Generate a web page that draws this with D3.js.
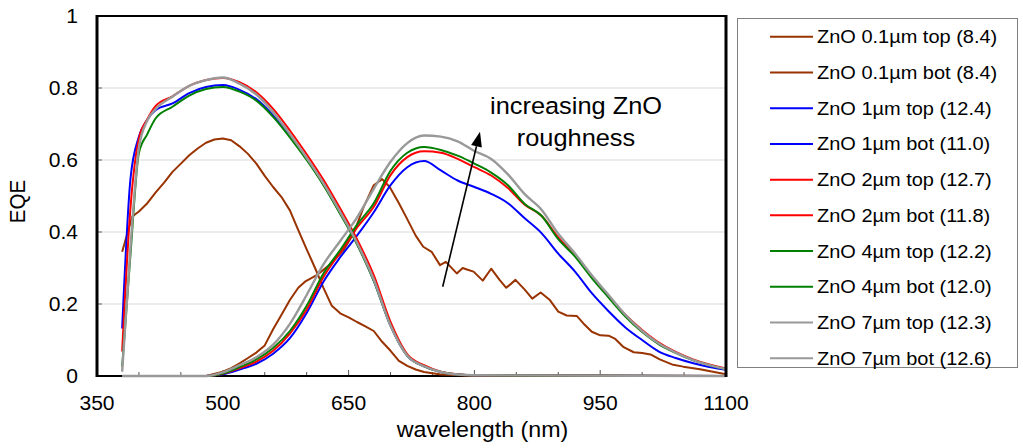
<!DOCTYPE html>
<html><head><meta charset="utf-8">
<script src="https://cdn.jsdelivr.net/npm/d3@7"></script>
<style>
body{margin:0;background:#fff}
svg{display:block}
text{font-family:"Liberation Sans",Arial,Helvetica,sans-serif;fill:#000}
</style>
</head><body>
<svg id="c" width="1023" height="448"></svg>
<script>
// ---------------- data ----------------
const seriesNames = [
  "ZnO 0.1\u00b5m top (8.4)", "ZnO 0.1\u00b5m bot (8.4)",
  "ZnO 1\u00b5m top (12.4)", "ZnO 1\u00b5m bot (11.0)",
  "ZnO 2\u00b5m top (12.7)", "ZnO 2\u00b5m bot (11.8)",
  "ZnO 4\u00b5m top (12.2)", "ZnO 4\u00b5m bot (12.0)",
  "ZnO 7\u00b5m top (12.3)", "ZnO 7\u00b5m bot (12.6)"
];
const xTicks = [350, 500, 650, 800, 950, 1100];
const xMinorTicks = [400,450,500,550,600,650,700,750,800,850,900,950,1000,1050];
const yTicks = [0, 0.2, 0.4, 0.6, 0.8, 1];
const yTickLabels = ["0", "0.2", "0.4", "0.6", "0.8", "1"];
const xTitle = "wavelength (nm)";
const yTitle = "EQE";
const annotationLines = ["increasing ZnO", "roughness"];

const wlTop = [380,390,400,410,420,440,460,480,500,520,540,560,580,600,620,640,660,680,700,720,740,760,780,800,1100];
const wlBot = [380,480,500,520,540,560,580,600,620,640,660,680,700,720,740,760,780,800,820,840,860,880,900,920,940,960,980,1000,1020,1040,1060,1080,1100];

const wlBrownTop = [380,392,400,410,420,430,440,450,460,470,480,490,500,510,520,530,540,550,560,570,580,590,600,610,620,630,640,650,660,670,680,690,700,710,720,730,740,760,800,1100];
const brownTop   = [.345,.443,.457,.48,.51,.537,.567,.59,.613,.632,.648,.657,.66,.655,.638,.617,.59,.556,.525,.497,.46,.405,.352,.3,.245,.195,.174,.163,.15,.138,.125,.095,.07,.042,.028,.018,.011,.004,.001,0];

const wlBrownBot = [380,480,500,510,520,530,540,550,560,570,580,590,598,612,628,644,656,668,680,690,699,710,719,730,739,749,759,766,779,786,792,799,810,820,830,838,849,860,869,879,890,900,910,922,930,940,950,960,968,978,990,1000,1010,1021,1037,1049,1069,1100];
const brownBot   = [0,0,.012,.022,.035,.05,.065,.085,.13,.17,.211,.245,.262,.28,.31,.35,.396,.47,.53,.547,.525,.48,.44,.39,.359,.345,.308,.317,.285,.3,.295,.29,.265,.298,.267,.245,.267,.24,.215,.232,.211,.179,.168,.167,.146,.123,.113,.112,.103,.08,.066,.064,.06,.046,.031,.026,.019,.005];

const blueTop  = [.132,.55,.665,.712,.739,.757,.786,.803,.808,.795,.769,.724,.667,.604,.533,.453,.368,.265,.14,.056,.027,.011,.004,.002,0];
const blueBot  = [0,0,.005,.018,.034,.062,.105,.175,.262,.33,.39,.455,.53,.58,.597,.571,.543,.525,.506,.48,.438,.397,.34,.29,.23,.18,.135,.1,.068,.05,.036,.025,.017];
const redTop   = [.068,.47,.66,.713,.75,.777,.806,.822,.828,.816,.788,.742,.682,.616,.545,.465,.38,.28,.15,.06,.03,.012,.005,.002,0];
const redBot   = [0,0,.006,.022,.04,.07,.118,.185,.275,.343,.412,.47,.558,.608,.624,.62,.603,.58,.557,.522,.476,.445,.385,.335,.277,.222,.17,.128,.093,.067,.047,.032,.021];
const greenTop = [.026,.34,.62,.672,.716,.748,.779,.797,.803,.79,.765,.72,.663,.6,.53,.45,.366,.264,.14,.056,.027,.011,.004,.002,0];
const greenBot = [0,0,.007,.025,.046,.078,.125,.195,.285,.35,.42,.48,.57,.62,.636,.628,.612,.59,.565,.53,.478,.445,.38,.332,.272,.218,.165,.122,.088,.064,.044,.03,.019];
const grayTop  = [.012,.36,.635,.71,.742,.776,.806,.822,.829,.812,.782,.733,.672,.606,.535,.455,.37,.268,.14,.056,.027,.011,.004,.002,0];
const grayBot  = [0,0,.01,.03,.052,.087,.145,.225,.31,.375,.44,.52,.595,.647,.668,.665,.652,.625,.603,.56,.505,.462,.395,.34,.28,.225,.17,.125,.09,.065,.045,.03,.019];

const seriesColors = ["#993300","#993300","#0000ff","#0000ff","#ff0000","#ff0000","#008000","#008000","#999999","#999999"];
const seriesWl = [wlBrownTop, wlBrownBot, wlTop, wlBot, wlTop, wlBot, wlTop, wlBot, wlTop, wlBot];
const seriesVals = [brownTop, brownBot, blueTop, blueBot, redTop, redBot, greenTop, greenBot, grayTop, grayBot];

// ---------------- chart ----------------
const P = {l: 97, r: 726, t: 16, b: 376};
const x = d3.scaleLinear().domain([350, 1100]).range([P.l, P.r]);
const y = d3.scaleLinear().domain([0, 1]).range([P.b, P.t]);
const SX = 1.08; // horizontal text stretch seen in the reference
const svg = d3.select("#c");

function place(sel, px, py, sx) {
  sel.attr("x", 0).attr("y", 0).attr("transform", `translate(${px},${py}) scale(${sx},1)`);
  return sel;
}

// gridlines
svg.append("g").selectAll("line").data(yTicks.filter(d => d > 0 && d < 1)).join("line")
  .attr("x1", P.l).attr("x2", P.r)
  .attr("y1", d => y(d)).attr("y2", d => y(d))
  .attr("stroke", "#d9d9d9").attr("stroke-width", 1);

// y ticks (small, inside)
svg.append("g").selectAll("line").data(yTicks.filter(d => d > 0 && d < 1)).join("line")
  .attr("x1", P.l).attr("x2", P.l + 5)
  .attr("y1", d => y(d)).attr("y2", d => y(d))
  .attr("stroke", "#666").attr("stroke-width", 1);

// x ticks (inside)
svg.append("g").selectAll("line").data(xMinorTicks).join("line")
  .attr("x1", d => x(d)).attr("x2", d => x(d))
  .attr("y1", P.b).attr("y2", d => P.b - ((d - 350) % 150 === 0 ? 6 : 4))
  .attr("stroke", "#555").attr("stroke-width", 1);

// bottom axis line (series lying on zero are drawn over it)
svg.append("line").attr("x1", P.l - 1).attr("x2", P.r + 1).attr("y1", P.b).attr("y2", P.b)
  .attr("stroke", "#000").attr("stroke-width", 2);

// series
svg.append("clipPath").attr("id", "plotclip").append("rect")
  .attr("x", P.l).attr("y", P.t - 2).attr("width", P.r - P.l).attr("height", P.b - P.t + 4);
const smoothLine = d3.line().x(d => x(d[0])).y(d => y(d[1])).curve(d3.curveMonotoneX);
const rawLine = d3.line().x(d => x(d[0])).y(d => y(d[1]));
const gS = svg.append("g").attr("clip-path", "url(#plotclip)");
seriesNames.forEach((name, i) => {
  const pts = seriesWl[i].map((w, k) => [w, seriesVals[i][k]]);
  gS.append("path").datum(pts)
    .attr("d", i < 2 ? rawLine : smoothLine)
    .attr("fill", "none")
    .attr("stroke", seriesColors[i])
    .attr("stroke-width", i >= 8 ? 2.4 : 2)
    .attr("stroke-linejoin", "round");
});

// frame
const frame = svg.append("g").attr("stroke", "#000");
frame.append("line").attr("x1", P.l - 1).attr("x2", P.r + 1).attr("y1", P.t).attr("y2", P.t).attr("stroke-width", 2);
frame.append("line").attr("x1", P.l).attr("x2", P.l).attr("y1", P.t - 1).attr("y2", P.b + 1).attr("stroke-width", 3);
frame.append("line").attr("x1", P.r).attr("x2", P.r).attr("y1", P.t - 1).attr("y2", P.b + 1).attr("stroke-width", 3);

// tick labels
svg.append("g").selectAll("text").data(yTicks).join("text")
  .text((d, i) => yTickLabels[i])
  .attr("font-size", 19.5).attr("text-anchor", "end").attr("dy", "0.35em")
  .each(function(d) { place(d3.select(this), 78, y(d), SX); });

svg.append("g").selectAll("text").data(xTicks).join("text")
  .text(d => d)
  .attr("font-size", 19.5).attr("text-anchor", "middle")
  .each(function(d) { place(d3.select(this), x(d), 410, SX); });

// axis titles
place(svg.append("text").text(xTitle).attr("font-size", 21.5).attr("text-anchor", "middle"), 482.5, 437, SX);
svg.append("text").text(yTitle).attr("font-size", 20.5).attr("text-anchor", "middle")
  .attr("transform", `translate(25,201.5) rotate(-90) scale(1,${SX})`);

// annotation
const ann = svg.append("g");
annotationLines.forEach((t, i) => {
  place(ann.append("text").text(t).attr("font-size", 23.5).attr("text-anchor", "middle"), 576, 114 + i * 32, SX);
});
const a0 = [442.7, 286.7], a1 = [480, 131.7];
const ang = Math.atan2(a1[1] - a0[1], a1[0] - a0[0]);
const headL = 15, headW = 5.5;
const bx = a1[0] - headL * Math.cos(ang), by = a1[1] - headL * Math.sin(ang);
ann.append("line").attr("x1", a0[0]).attr("y1", a0[1]).attr("x2", bx).attr("y2", by)
  .attr("stroke", "#000").attr("stroke-width", 1.6);
ann.append("path")
  .attr("d", `M${a1[0]},${a1[1]} L${bx + headW * Math.sin(ang)},${by - headW * Math.cos(ang)} L${bx - headW * Math.sin(ang)},${by + headW * Math.cos(ang)} Z`)
  .attr("fill", "#000");

// legend
const L = {x: 737, y: 18, w: 280, h: 349};
const gL = svg.append("g");
gL.append("rect").attr("x", L.x + 0.5).attr("y", L.y + 0.5).attr("width", L.w).attr("height", L.h)
  .attr("fill", "#fff").attr("stroke", "#808080").attr("stroke-width", 1);
const rowY = d3.scaleLinear().domain([0, seriesNames.length - 1]).range([36.7, 358.3]);
seriesNames.forEach((name, i) => {
  gL.append("line").attr("x1", 770).attr("x2", 813).attr("y1", rowY(i)).attr("y2", rowY(i))
    .attr("stroke", seriesColors[i]).attr("stroke-width", 2);
  place(gL.append("text").text(name).attr("font-size", 18.5).attr("dy", "0.35em"), 817, rowY(i), SX);
});
</script>
</body></html>
